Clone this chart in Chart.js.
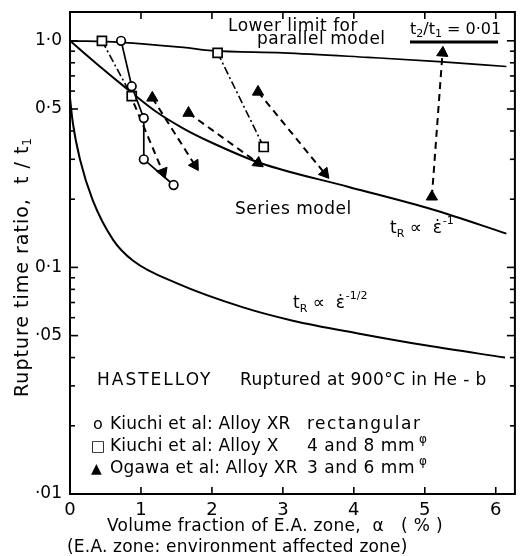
<!DOCTYPE html>
<html lang="en">
<head>
    <meta charset="UTF-8">
    <title>Rupture time ratio vs volume fraction of E.A. zone</title>
    <script src="https://cdn.jsdelivr.net/npm/chart.js"></script>
    <style>
        body { margin: 0; background: #fff; }
    </style>
</head>
<body>
    <canvas id="chart" width="523" height="556"></canvas>

    <script>
        // model curves (alpha in %, t/t1)
        const parallelAlpha = [0, 0.7, 1.6, 2.0, 3.0, 4.2, 5.2, 6.15];
        const parallelRatio = [1.0, 0.985, 0.935, 0.905, 0.885, 0.845, 0.81, 0.77];
        const seriesAlpha = [0, 0.4, 0.8, 1.2, 1.6, 2.0, 2.68, 3.94, 5.11, 6.15];
        const seriesRatio = [1.0, 0.78, 0.615, 0.49, 0.41, 0.355, 0.289, 0.226, 0.18, 0.141];
        const halfAlpha = [0, 0.04, 0.14, 0.32, 0.61, 0.89, 1.51, 2.44, 3.14, 4.08, 5.03, 6.13];
        const halfRatio = [0.56, 0.434, 0.30, 0.198, 0.132, 0.107, 0.085, 0.0666, 0.0582, 0.051, 0.0452, 0.040];

        // measured data
        const kiuchiXRAlpha = [0.72, 0.87, 1.04, 1.04, 1.46];
        const kiuchiXRRatio = [1.0, 0.63, 0.456, 0.30, 0.231];
        const kiuchiXAlphaA = [0.45, 0.87];
        const kiuchiXRatioA = [1.0, 0.57];
        const kiuchiXAlphaB = [2.08, 2.73];
        const kiuchiXRatioB = [0.885, 0.34];
        const ogawaFromAlpha = [0.9, 1.16, 1.67, 2.65, 5.10];
        const ogawaFromRatio = [0.53, 0.56, 0.48, 0.595, 0.205];
        const ogawaToAlpha = [1.31, 1.76, 2.65, 3.59, 5.25];
        const ogawaToRatio = [0.263, 0.283, 0.289, 0.26, 0.885];

        // axes
        const xTickVals = [0, 1, 2, 3, 4, 5, 6];
        const xTickLabels = ['0', '1', '2', '3', '4', '5', '6'];
        const yMajorVals = [1, 0.5, 0.1, 0.05, 0.01];
        const yMajorLabels = ['1·0', '0·5', '0·1', '·05', '·01'];
        const yMinorVals = [0.9, 0.8, 0.7, 0.6, 0.4, 0.3, 0.2, 0.09, 0.08, 0.07, 0.06, 0.04, 0.03, 0.02];

        const FONT = '"DejaVu Sans", sans-serif';
        Chart.defaults.font.family = FONT;
        Chart.defaults.color = '#000';

        function pts(xs, ys) {
            return xs.map((x, i) => ({ x: x, y: ys[i] }));
        }

        // arrow heads point along the dashed lines
        const ogawaRot = [159, 148, 126, 140, 4];

        const datasets = [];
        datasets.push({
            data: pts(kiuchiXRAlpha, kiuchiXRRatio),
            borderColor: '#000', borderWidth: 1.7,
            pointStyle: 'circle', pointRadius: 4.3, pointBorderWidth: 1.7,
            pointBackgroundColor: '#fff', pointBorderColor: '#000'
        });
        [[kiuchiXAlphaA, kiuchiXRatioA], [kiuchiXAlphaB, kiuchiXRatioB]].forEach(p => {
            datasets.push({
                data: pts(p[0], p[1]),
                borderColor: '#000', borderWidth: 1.6, borderDash: [8, 3, 2, 3],
                pointStyle: 'rect', pointRadius: 6.4, pointBorderWidth: 1.7,
                pointBackgroundColor: '#fff', pointBorderColor: '#000'
            });
        });
        ogawaFromAlpha.forEach((a, i) => {
            datasets.push({
                data: pts([a, ogawaToAlpha[i]], [ogawaFromRatio[i], ogawaToRatio[i]]),
                borderColor: '#000', borderWidth: 2, borderDash: [7, 5],
                pointStyle: 'triangle', pointRadius: i === 0 ? [0, 6.5] : 6.5,
                pointRotation: [0, ogawaRot[i]],
                pointBackgroundColor: '#000', pointBorderColor: '#000', pointBorderWidth: 1
            });
        });
        [[parallelAlpha, parallelRatio, 1.7], [seriesAlpha, seriesRatio, 2], [halfAlpha, halfRatio, 2]].forEach(c => {
            datasets.push({
                data: pts(c[0], c[1]),
                borderColor: '#000', borderWidth: c[2],
                pointRadius: 0, tension: 0.4, cubicInterpolationMode: 'monotone'
            });
        });

        function line(ctx, x1, y1, x2, y2) {
            ctx.beginPath();
            ctx.moveTo(x1, y1);
            ctx.lineTo(x2, y2);
            ctx.stroke();
        }

        function txt(ctx, s, x, y, size, spacing) {
            ctx.font = size + 'px ' + FONT;
            ctx.letterSpacing = (spacing || 0) + 'px';
            ctx.textAlign = 'left';
            ctx.textBaseline = 'middle';
            ctx.fillText(s, x, y);
            return x + ctx.measureText(s).width;
        }

        // tR ∝ ε̇^power
        function rateLabel(ctx, x, y, power) {
            x = txt(ctx, 't', x, y, 17);
            x = txt(ctx, 'R', x, y + 5, 11);
            x = txt(ctx, ' ∝  ε̇', x, y, 17);
            txt(ctx, power, x + 1, y - 8, 11);
        }

        const frame = {
            id: 'frame',
            afterDraw(chart) {
                const ctx = chart.ctx, a = chart.chartArea;
                const xs = chart.scales.x, ys = chart.scales.y;
                ctx.save();
                ctx.strokeStyle = '#000';
                ctx.fillStyle = '#000';
                ctx.lineWidth = 2;
                ctx.strokeRect(a.left, a.top, a.right - a.left, a.bottom - a.top);

                // inward ticks on all four sides
                ctx.lineWidth = 1.6;
                yMajorVals.concat(yMinorVals).forEach(v => {
                    const py = ys.getPixelForValue(v);
                    const len = yMajorVals.includes(v) ? 8 : 5;
                    line(ctx, a.left, py, a.left + len, py);
                    line(ctx, a.right, py, a.right - len, py);
                });
                xTickVals.slice(1).forEach(v => {
                    const px = xs.getPixelForValue(v);
                    line(ctx, px, a.bottom, px, a.bottom - 7);
                    line(ctx, px, a.top, px, a.top + 7);
                });

                // annotations
                txt(ctx, 'Lower limit for', 228, 27, 17, 0.5);
                txt(ctx, 'parallel model', 257, 40, 17, 0.5);
                let x = txt(ctx, 't', 410, 30, 16);
                x = txt(ctx, '2', x, 34, 11);
                x = txt(ctx, '/t', x, 30, 16);
                x = txt(ctx, '1', x, 34, 11);
                txt(ctx, ' = 0·01', x, 30, 16);
                ctx.lineWidth = 3;
                line(ctx, 410, 42, 498, 42);

                txt(ctx, 'Series model', 235, 210, 17, 0.5);
                rateLabel(ctx, 390, 229, '-1');
                rateLabel(ctx, 293, 304, '-1/2');

                txt(ctx, 'HASTELLOY', 97, 381, 17, 2);
                txt(ctx, 'Ruptured at 900°C in He - b', 240, 381, 17, 0.4);

                // legend
                txt(ctx, 'o', 93, 425, 16);
                txt(ctx, 'Kiuchi et al: Alloy XR', 110, 425, 17, 0.2);
                txt(ctx, 'rectangular', 307, 425, 17, 1.5);
                txt(ctx, '□', 91, 447, 15);
                txt(ctx, 'Kiuchi et al: Alloy X', 110, 447, 17, 0.2);
                x = txt(ctx, '4 and 8 mm', 307, 447, 17, 0.5);
                txt(ctx, 'φ', x + 4, 440, 12);
                txt(ctx, '▲', 91, 469, 14);
                txt(ctx, 'Ogawa et al: Alloy XR', 110, 469, 17, 0.2);
                x = txt(ctx, '3 and 6 mm', 307, 469, 17, 0.5);
                txt(ctx, 'φ', x + 4, 462, 12);

                // axis titles
                txt(ctx, 'Volume fraction of E.A. zone,  α   ( % )', 107, 527, 17, 0.3);
                txt(ctx, '(E.A. zone: environment affected zone)', 67, 548, 17, 0.2);
                ctx.translate(23, 397);
                ctx.rotate(-Math.PI / 2);
                x = txt(ctx, 'Rupture time ratio,  t / t', 0, 0, 19, 1);
                txt(ctx, '1', x, 5, 12);
                ctx.restore();
            }
        };

        new Chart(document.getElementById('chart'), {
            type: 'line',
            data: { datasets: datasets },
            plugins: [frame],
            options: {
                responsive: false,
                devicePixelRatio: 1,
                animation: false,
                layout: { padding: { left: 0, top: 12, right: 8, bottom: 0 } },
                plugins: { legend: { display: false }, tooltip: { enabled: false } },
                scales: {
                    x: {
                        type: 'linear', min: 0, max: 6.27,
                        grid: { display: false, drawTicks: false },
                        border: { display: false },
                        afterBuildTicks: s => { s.ticks = xTickVals.map(v => ({ value: v })); },
                        afterFit: s => { s.height = 62; s.paddingLeft = 0; s.paddingRight = 0; },
                        ticks: {
                            autoSkip: false, maxRotation: 0, padding: 6,
                            font: { size: 18 },
                            callback: v => xTickLabels[xTickVals.indexOf(v)]
                        }
                    },
                    y: {
                        type: 'logarithmic', min: 0.01, max: 1.34,
                        grid: { display: false, drawTicks: false },
                        border: { display: false },
                        afterBuildTicks: s => { s.ticks = yMajorVals.map(v => ({ value: v })); },
                        afterFit: s => { s.width = 70; s.paddingTop = 0; s.paddingBottom = 0; },
                        ticks: {
                            autoSkip: false, padding: 8,
                            font: { size: 17 },
                            callback: v => yMajorLabels[yMajorVals.indexOf(v)]
                        }
                    }
                }
            }
        });
    </script>
</body>
</html>
